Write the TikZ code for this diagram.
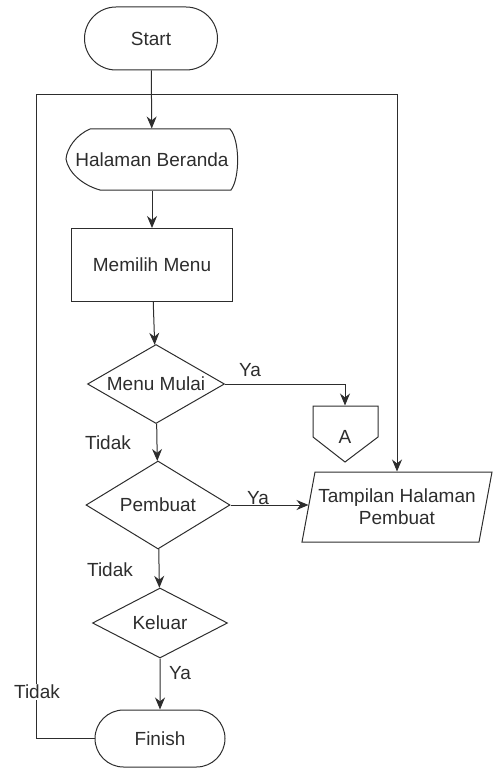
\documentclass[tikz,border=0pt]{standalone}
\usepackage{fontspec}
\setmainfont{Liberation Sans}
\usetikzlibrary{arrows.meta}
\usetikzlibrary{shapes.geometric}
\usetikzlibrary{shapes.misc}
\definecolor{ink}{RGB}{45,45,45}

\begin{document}
\begin{tikzpicture}[x=1pt,y=-1pt,color=ink,line width=1pt,
	font=\fontsize{19}{22}\selectfont,
	term/.style={rounded rectangle,draw,inner sep=0pt},
	proc/.style={rectangle,draw,inner sep=0pt},
	decide/.style={diamond,draw,aspect=1.73,inner sep=0pt},
	plain/.style={inner sep=0pt,align=center},
	lbl/.style={inner sep=1pt},
	arr/.style={-{Stealth[length=12pt,width=10pt]}}]
	\useasboundingbox (0,0) rectangle (493,770);
	
	\node[term,minimum width=133pt,minimum height=63pt] (start) at (151,38.5) {Start};
	\node[plain,minimum width=175pt,minimum height=61pt] (beranda) at (152,159.5) {Halaman Beranda};
	\node[proc,minimum width=161pt,minimum height=73pt] (menu) at (152,265) {Memilih Menu};
	\node[decide,minimum width=137pt,minimum height=79pt] (mulai) at (156,384) {Menu Mulai};
	\node[decide,minimum width=144pt,minimum height=88pt] (buat) at (158,505) {Pembuat};
	\node[decide,minimum width=135pt,minimum height=70pt] (keluar) at (160,623) {Keluar};
	\node[term,minimum width=130pt,minimum height=57pt] (finish) at (160,738.5) {Finish};
	\node[plain,minimum width=65pt,minimum height=62pt] (offA) at (345,437) {A};
	\node[plain,minimum width=176pt,minimum height=70pt] (tampil) at (397,507) {Tampilan Halaman\\Pembuat};
	
	% display symbol, off-page connector, parallelogram
	\draw (90,129) -- (230,129) .. controls (240,140) and (240,178) .. (231,190) -- (100,190)
		.. controls (82,185) and (68,172) .. (66,159) .. controls (67,148) and (76,135) .. (90,129);
	\draw (313,406) -- (378,406) -- (378,437) -- (345,462) -- (313,437) -- cycle;
	\draw (315,472) -- (492,472) -- (479,542) -- (302,542) -- cycle;
	
	\coordinate (loopL) at (36,95);
	
	\draw[arr] (start) -- (beranda);
	\draw[arr] (beranda) -- (menu);
	\draw[arr] (menu) -- (mulai);
	\draw[arr] (mulai) -- (buat);
	\draw[arr] (buat) -- (keluar);
	\draw[arr] (keluar) -- (finish);
	\draw[arr] (mulai.east) -- (mulai.east -| offA.north) -- (offA.north);
	\draw[arr] (buat.east) -- (buat.east -| tampil.west);
	\draw[arr] (finish.west) -- (finish.west -| loopL) -- (loopL) -- (loopL -| tampil.north) -- (tampil.north);
	
	\node[lbl] (yaMulai) at (250,370) {Ya};
	\node[lbl] (tidakMulai) at (108,443) {Tidak};
	\node[lbl] (yaBuat) at (258,498) {Ya};
	\node[lbl] (tidakBuat) at (110,570) {Tidak};
	\node[lbl] (yaKeluar) at (180,673) {Ya};
	\node[lbl,fill=white] (tidakKeluar) at (37,692) {Tidak};
	
\end{tikzpicture}
\end{document}
